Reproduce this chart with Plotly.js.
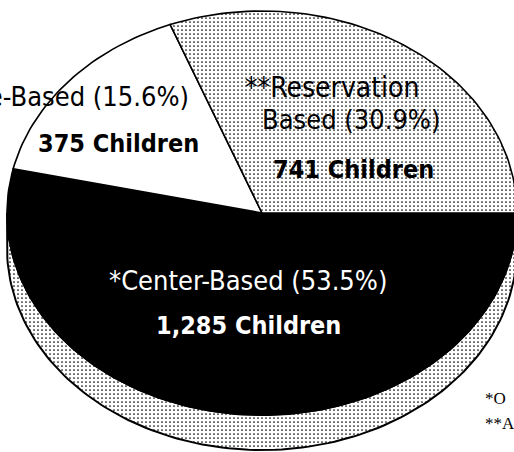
<!DOCTYPE html>
<html><head><meta charset="utf-8">
<script src="https://cdn.plot.ly/plotly-3.0.1.min.js"></script>
<style>html,body{margin:0;padding:0;background:#fff;overflow:hidden}#chart{width:514px;height:452px}</style>
</head><body><div id="chart"></div>
<script>
// ---- data ----
const categories = ["*Center-Based", "Home-Based", "**Reservation Based"];
const children = [1285, 375, 741];
const percents = [53.5, 15.6, 30.9];
const countLabels = ["1,285 Children", "375 Children", "741 Children"];
const footnotes = ["*O", "**A"];

// ---- geometry (layout, pixel units) ----
const W = 514, H = 452, CX = 262, CY = 213, RX = 255, RY = 202, DEPTH = 35;
const FONT = "DejaVu Sans Condensed, Liberation Sans Narrow, sans-serif";

function pt(deg, dy) {
  const r = deg * Math.PI / 180;
  return [CX + RX * Math.cos(r), CY + RY * Math.sin(r) + (dy || 0)];
}
function arc(a0, a1, dy) {
  const n = Math.max(8, Math.ceil(Math.abs(a1 - a0) / 1.5));
  const xs = [], ys = [];
  for (let i = 0; i <= n; i++) {
    const p = pt(a0 + (a1 - a0) * i / n, dy);
    xs.push(p[0]); ys.push(p[1]);
  }
  return [xs, ys];
}

const texture = {shape: ".", fgcolor: "#000", bgcolor: "#fff", size: 4, solidity: 0.14};
const fills = ["#000000", "#ffffff", null];

const traces = [];
// side wall of the tilted pie (front half)
{
  const top = arc(0, 180, 0), bot = arc(180, 0, DEPTH);
  traces.push({
    type: "scatter", mode: "lines", x: top[0].concat(bot[0]), y: top[1].concat(bot[1]),
    fill: "toself", fillcolor: "#d9d9d9", fillpattern: texture,
    line: {color: "#000", width: 2}, hoverinfo: "skip"
  });
}
// slices, clockwise from 3 o'clock, sized by children counts
const total = children.reduce((a, b) => a + b, 0);
let start = 0;
children.forEach((v, i) => {
  const sweep = v / total * 360;
  const a = arc(start, start + sweep, 0);
  const t = {
    type: "scatter", mode: "lines",
    x: [CX].concat(a[0], [CX]), y: [CY].concat(a[1], [CY]),
    fill: "toself", line: {color: "#000", width: 1.6}, hoverinfo: "skip"
  };
  if (fills[i]) t.fillcolor = fills[i];
  else { t.fillcolor = "#dedede"; t.fillpattern = texture; }
  traces.push(t);
  start += sweep;
});

function ann(text, x, y, size, color, bold, xanchor, family) {
  return {
    text: bold ? "<b>" + text + "</b>" : text, x: x, y: y, xref: "x", yref: "y",
    showarrow: false, xanchor: xanchor || "center", yanchor: "middle",
    font: {family: family || FONT, size: size, color: color}
  };
}
const SERIF = "Liberation Serif, Times New Roman, serif";
const annotations = [
  ann(categories[0] + " (" + percents[0].toFixed(1) + "%)", 248, 280, 27, "#fff", false),
  ann(countLabels[0], 248, 325, 25, "#fff", true),
  ann(categories[1] + " (" + percents[1].toFixed(1) + "%)", 191, 96, 27, "#000", false, "right"),
  ann(countLabels[1], 118, 143, 25, "#000", true),
  ann("**Reservation", 332, 87, 28, "#000", false),
  ann("Based (" + percents[2].toFixed(1) + "%)", 351, 119, 27, "#000", false),
  ann(countLabels[2], 353, 169, 25, "#000", true),
  ann(footnotes[0], 483, 398, 17, "#000", false, "left", SERIF),
  ann(footnotes[1], 483, 423, 17, "#000", false, "left", SERIF)
];

const layout = {
  width: W, height: H, margin: {l: 0, r: 0, t: 0, b: 0},
  paper_bgcolor: "#fff", plot_bgcolor: "#fff", showlegend: false,
  xaxis: {range: [0, W], visible: false, fixedrange: true},
  yaxis: {range: [H, 0], visible: false, fixedrange: true},
  annotations: annotations
};
Plotly.newPlot("chart", traces, layout, {staticPlot: true, displayModeBar: false});
</script></body></html>
